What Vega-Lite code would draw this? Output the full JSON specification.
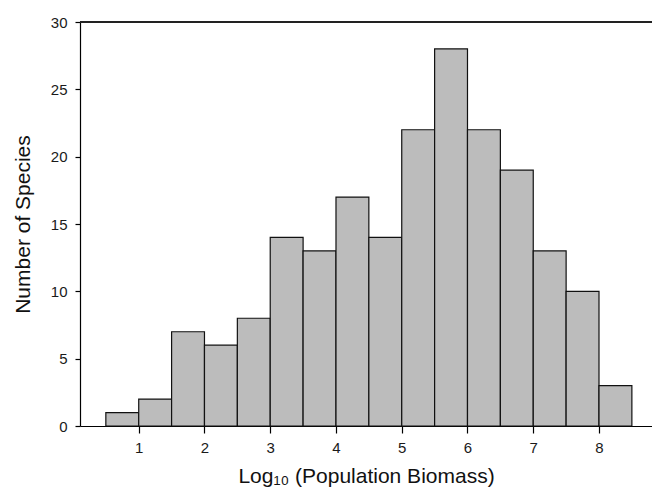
{
  "$schema": "https://vega.github.io/schema/vega-lite/v6.json",
  "autosize": "none",
  "padding": {"left": 80, "top": 22, "right": 0, "bottom": 73},
  "width": 572,
  "height": 404,
  "background": "white",
  "config": {
    "view": {"stroke": null},
    "font": "Liberation Sans",
    "axis": {"grid": false, "domainColor": "black", "tickColor": "black", "labelColor": "#1a1a1a", "titleColor": "#111111", "labelFont": "Liberation Sans", "titleFont": "Liberation Sans", "titleFontWeight": "normal", "domainWidth": 1.2, "tickWidth": 1.2}
  },
  "data": {"values": [
    {"lo": 0.5, "hi": 1.0, "n": 1},
    {"lo": 1.0, "hi": 1.5, "n": 2},
    {"lo": 1.5, "hi": 2.0, "n": 7},
    {"lo": 2.0, "hi": 2.5, "n": 6},
    {"lo": 2.5, "hi": 3.0, "n": 8},
    {"lo": 3.0, "hi": 3.5, "n": 14},
    {"lo": 3.5, "hi": 4.0, "n": 13},
    {"lo": 4.0, "hi": 4.5, "n": 17},
    {"lo": 4.5, "hi": 5.0, "n": 14},
    {"lo": 5.0, "hi": 5.5, "n": 22},
    {"lo": 5.5, "hi": 6.0, "n": 28},
    {"lo": 6.0, "hi": 6.5, "n": 22},
    {"lo": 6.5, "hi": 7.0, "n": 19},
    {"lo": 7.0, "hi": 7.5, "n": 13},
    {"lo": 7.5, "hi": 8.0, "n": 10},
    {"lo": 8.0, "hi": 8.5, "n": 3}
  ]},
  "layer": [
    {
      "mark": {"type": "rect", "fill": "#bcbcbc", "stroke": "#111111", "strokeWidth": 1.2},
      "encoding": {
        "x": {"field": "lo", "type": "quantitative", "scale": {"domain": [0.107, 8.806], "nice": false, "zero": false},
          "axis": {"values": [1,2,3,4,5,6,7,8], "title": "Log₁₀ (Population Biomass)", "titleFontSize": 21, "titlePadding": 10, "labelFontSize": 15, "labelPadding": 7, "tickSize": 7, "labelFlush": false}},
        "x2": {"field": "hi"},
        "y": {"field": "n", "type": "quantitative", "scale": {"domain": [0, 30], "nice": false},
          "axis": {"values": [0,5,10,15,20,25,30], "title": "Number of Species", "titleFontSize": 21, "titlePadding": 17, "labelFontSize": 15, "labelPadding": 8, "tickSize": 5}},
        "y2": {"datum": 0}
      }
    },
    {
      "mark": {"type": "rule", "color": "#222222", "strokeWidth": 1.2},
      "encoding": {"y": {"datum": 30}}
    }
  ]
}
